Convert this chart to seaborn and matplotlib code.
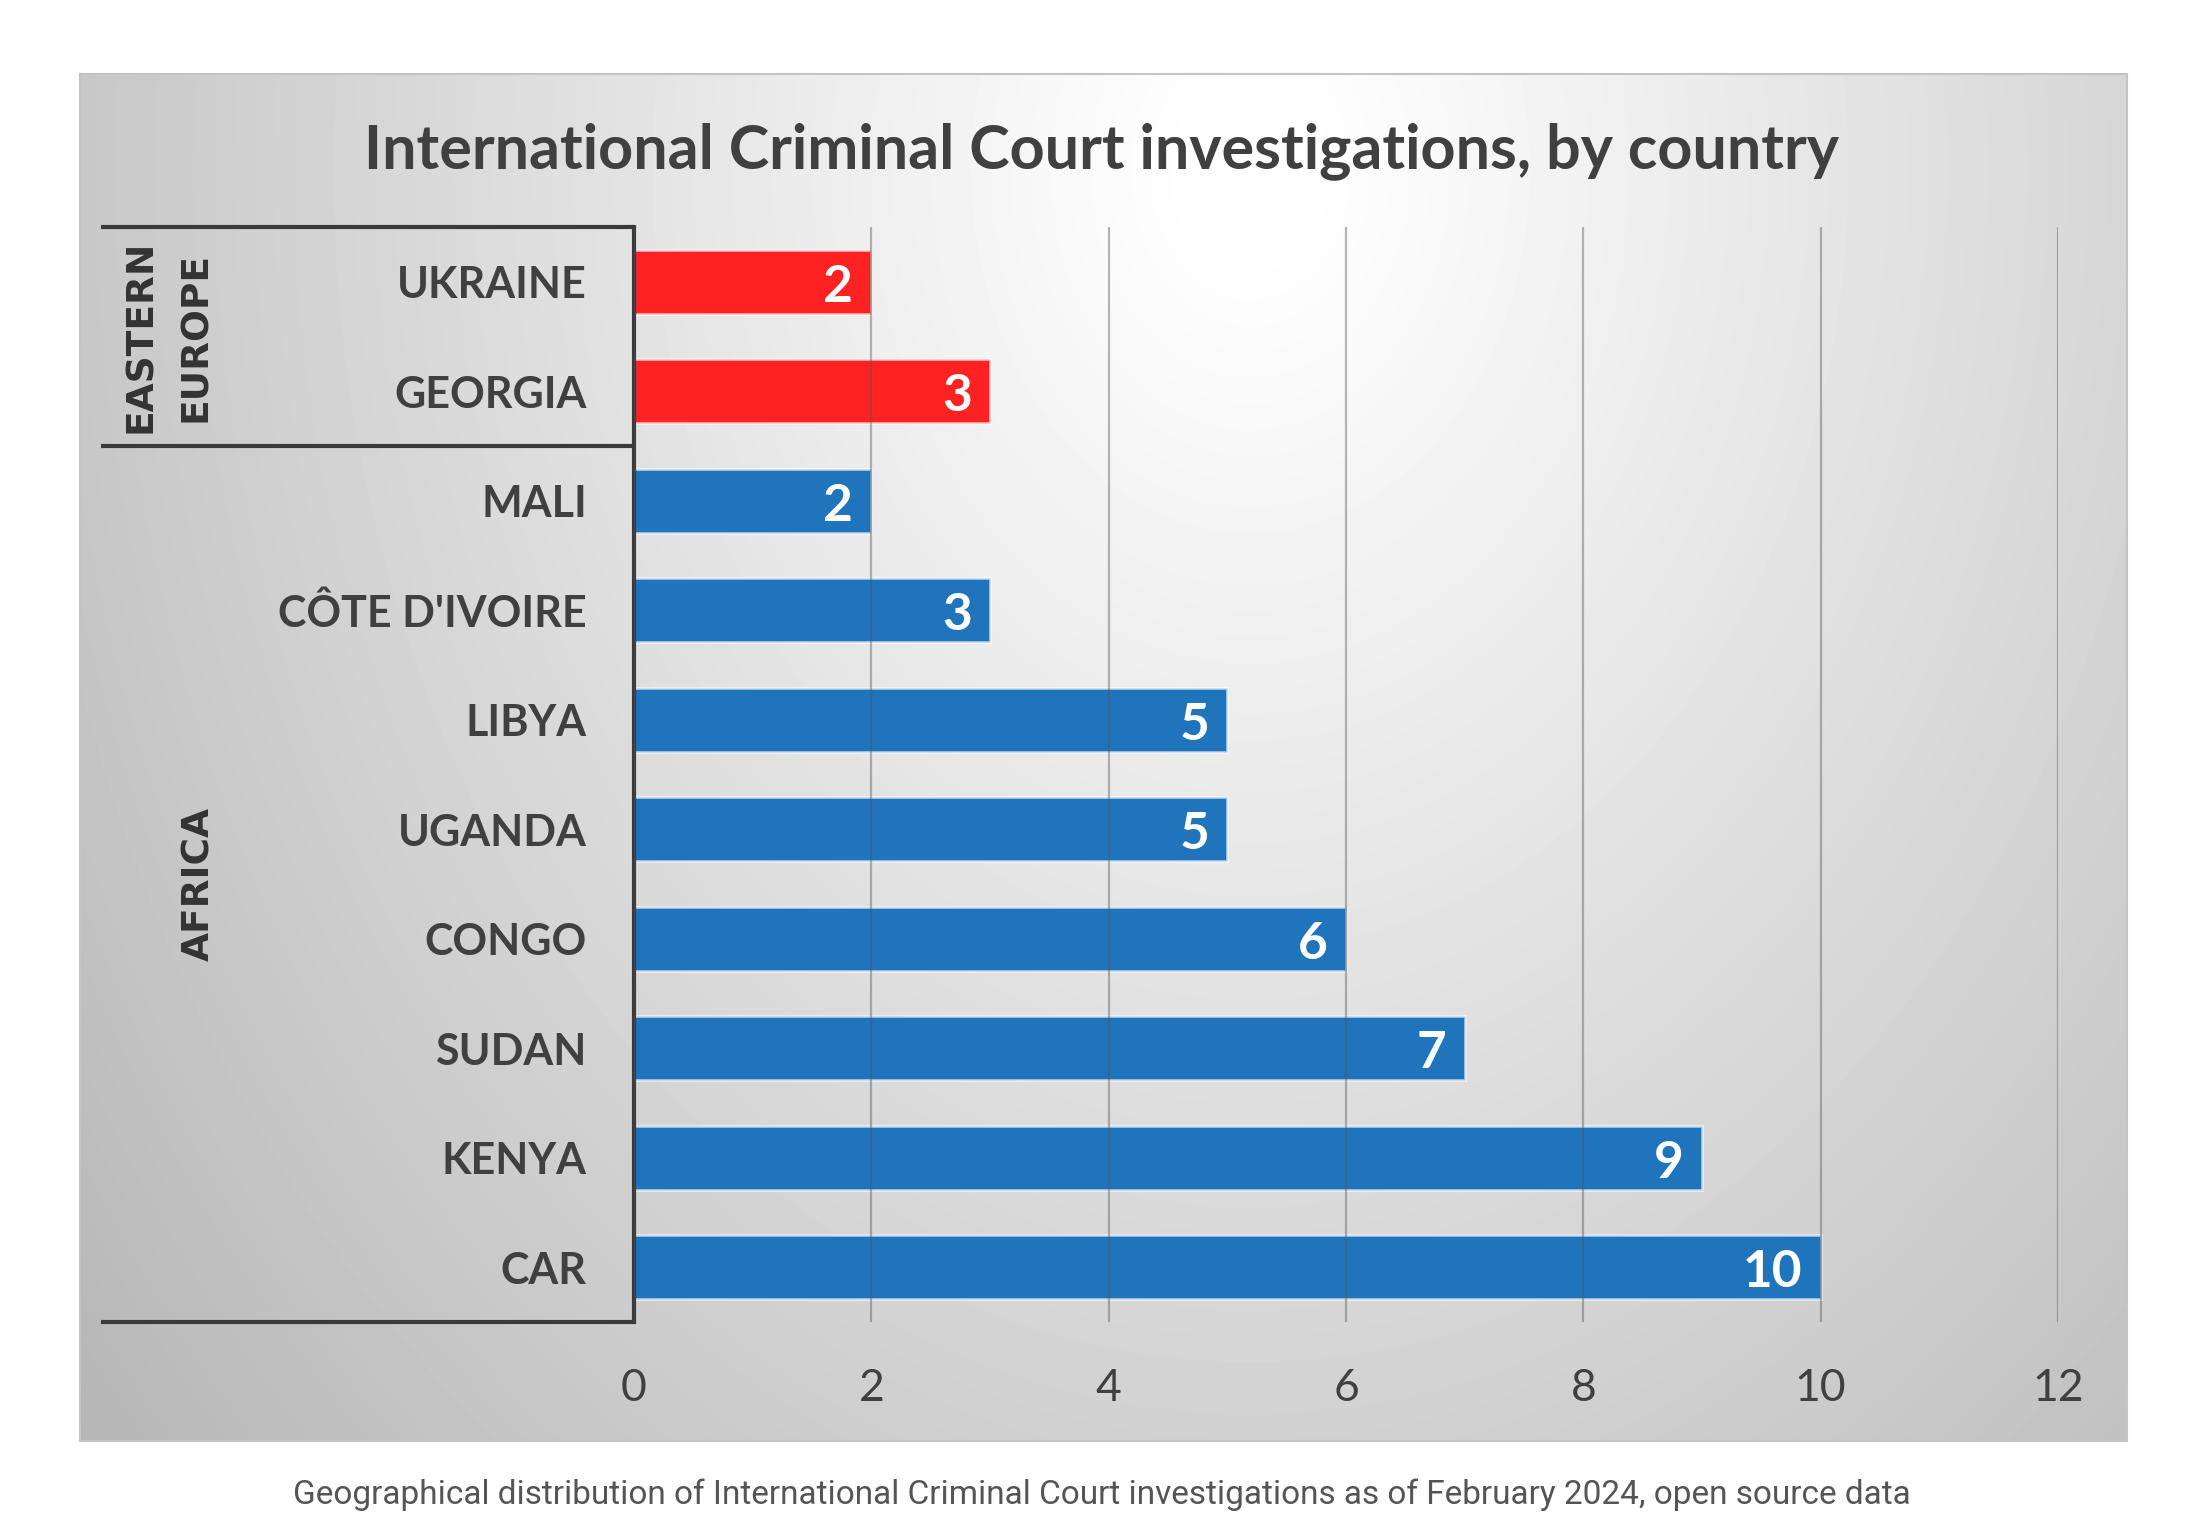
import numpy as np
import matplotlib.pyplot as plt
import matplotlib.transforms as mtransforms
import pandas as pd
import seaborn as sns

countries = ['UKRAINE', 'GEORGIA', 'MALI', "CÔTE D'IVOIRE", 'LIBYA',
             'UGANDA', 'CONGO', 'SUDAN', 'KENYA', 'CAR']
investigations = [2, 3, 2, 3, 5, 5, 6, 7, 9, 10]
regions = ['Eastern Europe'] * 2 + ['Africa'] * 8
group_names = ['EASTERN\nEUROPE', 'AFRICA']
x_ticks = [0, 2, 4, 6, 8, 10, 12]

title = 'International Criminal Court investigations, by country'
caption = ('Geographical distribution of International Criminal Court '
           'investigations as of February 2024, open source data')

sns.set_style('white')
W, H = 2194, 1526
fig = plt.figure(figsize=(W / 100, H / 100), dpi=100)
fig.patch.set_facecolor('white')

# grey card with a light radial gradient behind the chart
l, t, r, b = 80, 74, 2127, 1441
bg = fig.add_axes([l / W, 1 - b / H, (r - l) / W, (b - t) / H], zorder=0)
yy, xx = np.mgrid[t:b, l:r]
d = np.sqrt(((xx - 1250) / 1000) ** 2 + ((yy - 170) / 1300) ** 2)
shade = np.clip(258 - 50 * d, 180, 255) / 255
bg.imshow(shade, cmap='gray', vmin=0, vmax=1, aspect='auto', interpolation='bilinear')
bg.set_xticks([])
bg.set_yticks([])
for s in bg.spines.values():
    s.set_color('#c4c4c4')
    s.set_linewidth(1.5)

# main axes
ax = fig.add_axes([634 / W, 1 - 1322 / H, (2058 - 634) / W, (1322 - 227) / H], zorder=2)
ax.patch.set_alpha(0)
df = pd.DataFrame({'country': countries, 'n': investigations, 'region': regions})
sns.barplot(data=df, x='n', y='country', hue='region',
            palette={'Eastern Europe': '#FF2222', 'Africa': '#1F74BB'},
            dodge=False, width=0.58, saturation=1, legend=False,
            edgecolor=(1, 1, 1, 0.6), linewidth=2, ax=ax)

ax.set_xlim(0, 12)
ax.set_ylim(len(countries) - 0.5, -0.5)
ax.set_xticks(x_ticks)
ax.set_xlabel('')
ax.set_ylabel('')
ax.xaxis.grid(True, color='#555555', alpha=0.42, lw=1.6)
ax.set_axisbelow(False)
for side in ['top', 'right', 'bottom']:
    ax.spines[side].set_visible(False)
ax.spines['left'].set_color('#3a3a3a')
ax.spines['left'].set_linewidth(3)

ax.tick_params(axis='x', length=0, pad=33, labelsize=32, labelcolor='#404040')
ax.tick_params(axis='y', length=0, pad=34)
for lab in ax.get_xticklabels():
    lab.set_fontfamily('Lato')
for lab in ax.get_yticklabels():
    lab.set_fontfamily('Lato')
    lab.set_fontweight('bold')
    lab.set_fontsize(31)
    lab.set_color('#404040')

# table lines on the left
tr = mtransforms.blended_transform_factory(ax.transAxes, ax.transData)
for yv in [-0.5, 1.5, len(countries) - 0.5]:
    ax.plot([-0.374, 0], [yv, yv], color='#3a3a3a', lw=3, transform=tr,
            clip_on=False, solid_capstyle='butt')

ax.text(-0.327, 0.5, group_names[0], transform=tr, rotation=90, ha='center',
        va='center', multialignment='center', fontfamily='DejaVu Sans',
        fontweight='bold', fontsize=27, color='#333333', linespacing=1.7)
ax.text(-0.305, 5.5, group_names[1], transform=tr, rotation=90, ha='center',
        va='center', fontfamily='DejaVu Sans', fontweight='bold', fontsize=27,
        color='#333333')

# value labels inside the bar ends
for cont in ax.containers:
    for rect in cont:
        w = rect.get_width()
        if np.isnan(w):
            continue
        ax.annotate(f'{int(w)}', (w, rect.get_y() + rect.get_height() / 2),
                    xytext=(-13, -4), textcoords='offset points', ha='right',
                    va='center', color='white', fontfamily='Lato',
                    fontweight='bold', fontsize=37, zorder=4)

fig.text(1101 / W, 1 - 168 / H, title, ha='center', va='baseline',
         fontfamily='Lato', fontweight='bold', fontsize=44, color='#404040')
fig.text(1102 / W, 1 - 1504 / H, caption, ha='center', va='baseline',
         fontfamily='Roboto', fontsize=24, color='#555555')

fig.savefig('out.png', dpi=100)
